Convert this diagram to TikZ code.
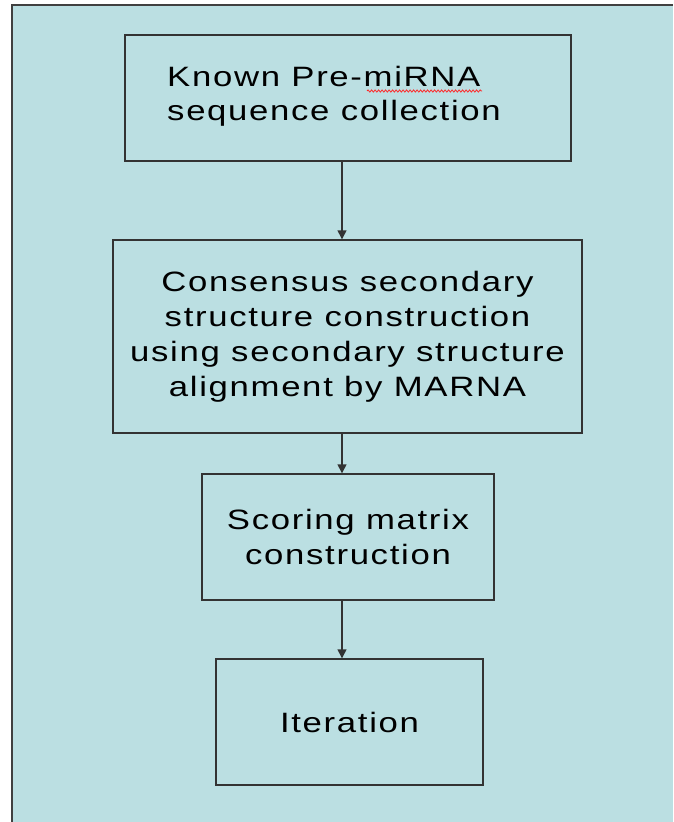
\documentclass[tikz,border=0pt]{standalone}
\usepackage{fontspec}
\setmainfont[FakeStretch=1.24, LetterSpace=6]{Liberation Sans}
\usetikzlibrary{arrows.meta,decorations.pathmorphing}
\definecolor{slideblue}{RGB}{187,223,226}
\definecolor{framegray}{gray}{0.25}
\definecolor{boxgray}{gray}{0.2}

\begin{document}
\begin{tikzpicture}[x=1pt, y=-1pt,
  stepbox/.style={draw=boxgray, line width=1.4pt, fill=slideblue, font=\fontsize{28}{35}\selectfont, align=center, inner sep=0pt},
  arr/.style={-{Triangle[width=9pt,length=9pt]}, line width=1.4pt, draw=boxgray},
  squiggle/.style={red!85!white, line width=0.8pt, decorate, decoration={snake, segment length=3.5pt, amplitude=1.1pt}}
]
  \useasboundingbox (0,0) rectangle (673,822);
  \fill[white] (0,0) rectangle (673,822);
  \fill[slideblue] (12,5) rectangle (673,822);
  \draw[framegray, line width=2pt] (12,822) -- (12,5) -- (673,5);

  \coordinate (axis) at (342,0);

  \node[stepbox, minimum width=446pt, minimum height=126pt] (known) at (348,98) {};
  \node[font=\fontsize{28}{34}\selectfont, align=left, inner sep=0pt] (knowntxt) at (334,96)
    {Known Pre-miRNA\\sequence collection};
  \draw[squiggle] (367,91) -- (482,91);

  \node[stepbox, minimum width=469pt, minimum height=193pt] (consensus) at (347.5,336.5)
    {Consensus secondary\\structure construction\\using secondary structure\\alignment by MARNA};
  \node[stepbox, minimum width=292pt, minimum height=126pt] (scoring) at (348,537)
    {Scoring matrix\\construction};
  \node[stepbox, minimum width=267pt, minimum height=126pt] (iter) at (349.5,722) {Iteration};

  \draw[arr] (known.south -| axis) -- (consensus.north -| axis);
  \draw[arr] (consensus.south -| axis) -- (scoring.north -| axis);
  \draw[arr] (scoring.south -| axis) -- (iter.north -| axis);
\end{tikzpicture}
\end{document}
